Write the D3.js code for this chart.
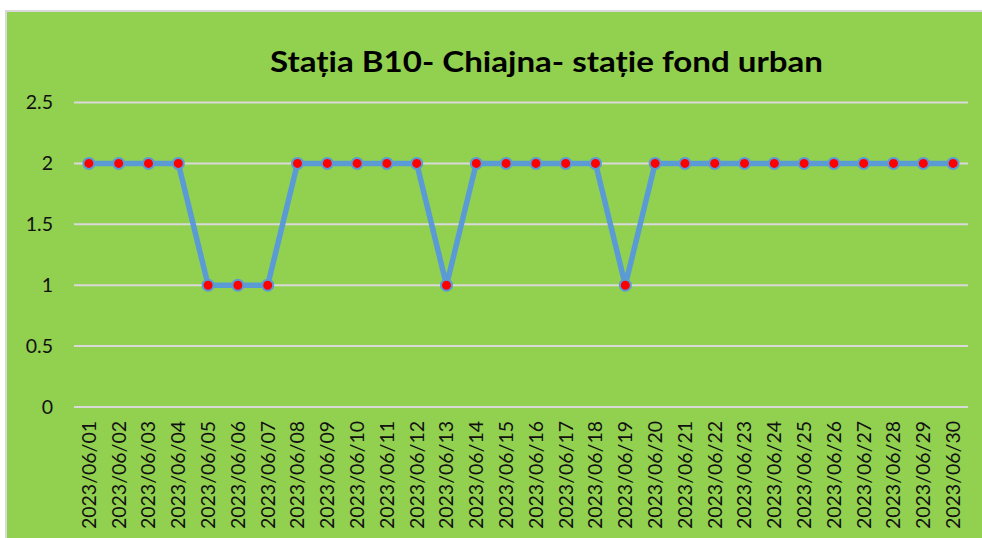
<!DOCTYPE html>
<html><head><meta charset="utf-8">
<script src="https://cdn.jsdelivr.net/npm/d3@7"></script>
<style>html,body{margin:0;padding:0;background:#fff;}svg{display:block;}</style>
</head><body>
<script>
const title = "Stația B10- Chiajna- stație fond urban";
const categories = ["2023/06/01","2023/06/02","2023/06/03","2023/06/04","2023/06/05","2023/06/06","2023/06/07","2023/06/08","2023/06/09","2023/06/10","2023/06/11","2023/06/12","2023/06/13","2023/06/14","2023/06/15","2023/06/16","2023/06/17","2023/06/18","2023/06/19","2023/06/20","2023/06/21","2023/06/22","2023/06/23","2023/06/24","2023/06/25","2023/06/26","2023/06/27","2023/06/28","2023/06/29","2023/06/30"];
const values = [2,2,2,2,1,1,1,2,2,2,2,2,1,2,2,2,2,2,1,2,2,2,2,2,2,2,2,2,2,2];
const yTicks = [0,0.5,1,1.5,2,2.5];

const W = 982, H = 538;
const svg = d3.select("body").append("svg").attr("width", W).attr("height", H);
// border + green background
svg.append("rect").attr("x",5).attr("y",10).attr("width",W-5).attr("height",H-10).attr("fill","#d9d9d9");
svg.append("rect").attr("x",7).attr("y",12).attr("width",W-7).attr("height",H-12).attr("fill","#92D050");

const x = d3.scaleBand().domain(categories).range([74,968]);
const y = d3.scaleLinear().domain([0,2.5]).range([407,102.5]);

// gridlines
svg.append("g").selectAll("line").data(yTicks).join("line")
  .attr("x1",74).attr("x2",968)
  .attr("y1",d=>y(d)).attr("y2",d=>y(d))
  .attr("stroke","#d9d9d9").attr("stroke-width",2);

// y axis labels
const yAxis = svg.append("g").attr("transform","translate(64,0)")
  .call(d3.axisLeft(y).tickValues(yTicks).tickSize(0).tickPadding(11).tickFormat(d=>String(d)));
yAxis.select(".domain").remove();
yAxis.selectAll("text").attr("font-family","Lato, 'Open Sans', sans-serif").attr("font-size","19.5px").attr("fill","#111");

// x axis labels
const xAxis = svg.append("g").attr("transform","translate(0,407)")
  .call(d3.axisBottom(x).tickSize(0).tickPadding(0));
xAxis.select(".domain").remove();
xAxis.selectAll("text")
  .attr("font-family","Lato, 'Open Sans', sans-serif").attr("font-size","19.5px").attr("fill","#111")
  .attr("text-anchor","end").attr("dy","0.35em")
  .attr("transform","translate(0,14) rotate(-90)");

// line
const line = d3.line().x((d,i)=>x(categories[i])+x.bandwidth()/2).y(d=>y(d));
svg.append("path").datum(values).attr("d",line)
  .attr("fill","none").attr("stroke","#5B9BD5").attr("stroke-width",5.5).attr("stroke-linejoin","round");

// markers
svg.append("g").selectAll("circle").data(values).join("circle")
  .attr("cx",(d,i)=>x(categories[i])+x.bandwidth()/2).attr("cy",d=>y(d))
  .attr("r",5.5).attr("fill","#FF0000").attr("stroke","#5B9BD5").attr("stroke-width",2);

// title
svg.append("text").attr("x",270).attr("y",72).attr("text-anchor","start")
  .attr("font-family","Lato, 'Open Sans', sans-serif").attr("font-weight","bold").attr("font-size","29px")
  .attr("textLength",553).attr("lengthAdjust","spacingAndGlyphs")
  .attr("fill","#000").text(title);
</script>
</body></html>
